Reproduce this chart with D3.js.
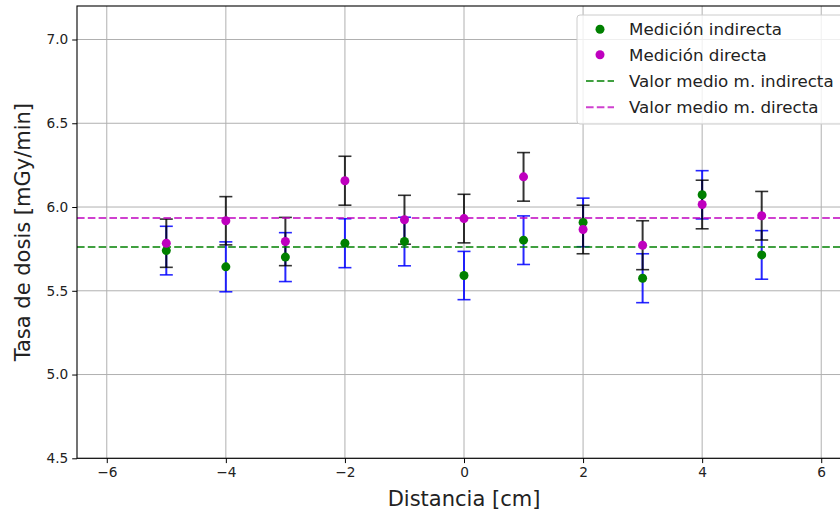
<!DOCTYPE html>
<html>
<head>
<meta charset="utf-8">
<script src="https://cdn.jsdelivr.net/npm/d3@7"></script>
<style>
  html, body { margin: 0; padding: 0; background: #fff; }
  svg { display: block; font-family: "DejaVu Sans", sans-serif; }
</style>
</head>
<body>
<svg id="chart" width="840" height="511"></svg>
<script>
// ---- data ----
const distances = [-5, -4, -3, -2, -1, 0, 1, 2, 3, 4, 5];
const indirecta = [5.74, 5.643, 5.701, 5.784, 5.794, 5.591, 5.802, 5.908, 5.575, 6.073, 5.714];
const indirectaErr = [0.145, 0.149, 0.146, 0.146, 0.145, 0.144, 0.145, 0.145, 0.146, 0.144, 0.145];
const directa = [5.784, 5.918, 5.794, 6.157, 5.924, 5.931, 6.18, 5.866, 5.772, 6.015, 5.948];
const directaErr = [0.144, 0.144, 0.144, 0.146, 0.146, 0.145, 0.145, 0.145, 0.146, 0.145, 0.145];
const mediaIndirecta = 5.762;
const mediaDirecta = 5.935;
const xTicks = [-6, -4, -2, 0, 2, 4, 6];
const yTicks = [4.5, 5.0, 5.5, 6.0, 6.5, 7.0];
const legendLabels = ["Medición indirecta", "Medición directa", "Valor medio m. indirecta", "Valor medio m. directa"];

(function () {
// ---- layout ----
const svg = d3.select("#chart");
const pL = 77, pR = 851, pT = 6, pB = 458.3;
const x = d3.scaleLinear().domain([-6.5, 6.5]).range([pL, pR]);
const y = d3.scaleLinear().domain([4.5, 7.2]).range([pB, pT]);

const G = "#008000", M = "#bf00bf", B = "#0000ff";

// grid
const grid = svg.append("g");
grid.selectAll(".gx").data(xTicks).join("line")
  .attr("x1", d => x(d)).attr("x2", d => x(d)).attr("y1", pT).attr("y2", pB)
  .attr("stroke", "#b0b0b0").attr("stroke-width", 1);
grid.selectAll(".gy").data(yTicks).join("line")
  .attr("x1", pL).attr("x2", pR).attr("y1", d => y(d)).attr("y2", d => y(d))
  .attr("stroke", "#b0b0b0").attr("stroke-width", 1);

// error bars
function errorBars(vals, errs, color, opacity) {
  const g = svg.append("g").attr("stroke", color).attr("stroke-opacity", opacity);
  const data = distances.map((d, i) => ({ x: d, v: vals[i], e: errs[i] }));
  g.selectAll(".v").data(data).join("line")
    .attr("x1", d => x(d.x)).attr("x2", d => x(d.x))
    .attr("y1", d => y(d.v - d.e)).attr("y2", d => y(d.v + d.e))
    .attr("stroke-width", 2);
  ["lo", "hi"].forEach(k => {
    g.selectAll(".c" + k).data(data).join("line")
      .attr("x1", d => x(d.x) - 6.5).attr("x2", d => x(d.x) + 6.5)
      .attr("y1", d => y(k === "lo" ? d.v - d.e : d.v + d.e))
      .attr("y2", d => y(k === "lo" ? d.v - d.e : d.v + d.e))
      .attr("stroke-width", 1.6);
  });
}
errorBars(indirecta, indirectaErr, B, 0.85);
errorBars(directa, directaErr, "#000", 0.8);

// mean lines
function meanLine(v, color) {
  svg.append("line").attr("x1", pL).attr("x2", pR)
    .attr("y1", y(v)).attr("y2", y(v))
    .attr("stroke", color).attr("stroke-opacity", 0.75)
    .attr("stroke-width", 2).attr("stroke-dasharray", "7.6,3.2");
}
meanLine(mediaIndirecta, G);
meanLine(mediaDirecta, M);

// points
svg.append("g").selectAll("circle").data(distances).join("circle")
  .attr("cx", d => x(d)).attr("cy", (d, i) => y(indirecta[i])).attr("r", 4.5).attr("fill", G);
svg.append("g").selectAll("circle").data(distances).join("circle")
  .attr("cx", d => x(d)).attr("cy", (d, i) => y(directa[i])).attr("r", 4.5).attr("fill", M);

// frame
svg.append("rect").attr("x", pL).attr("y", pT).attr("width", pR - pL).attr("height", pB - pT)
  .attr("fill", "none").attr("stroke", "#000").attr("stroke-width", 1.1);

// axes
const xAxis = svg.append("g").attr("transform", `translate(0,${pB})`)
  .call(d3.axisBottom(x).tickValues(xTicks).tickSize(4.8).tickPadding(4)
    .tickFormat(d => d < 0 ? "\u2212" + Math.abs(d) : String(d)));
const yAxis = svg.append("g").attr("transform", `translate(${pL},0)`)
  .call(d3.axisLeft(y).tickValues(yTicks).tickSize(4.8).tickPadding(4)
    .tickFormat(d3.format(".1f")));
[xAxis, yAxis].forEach(a => {
  a.select(".domain").remove();
  a.selectAll("text").attr("font-size", 13.7).attr("fill", "#222").attr("font-family", "DejaVu Sans");
  a.selectAll("line").attr("stroke", "#000");
});

// axis labels
svg.append("text").attr("x", (pL + pR) / 2).attr("y", 506)
  .attr("text-anchor", "middle").attr("font-size", 21).attr("fill", "#222")
  .text("Distancia [cm]");
svg.append("text").attr("transform", `translate(30,${(pT + pB) / 2}) rotate(-90)`)
  .attr("text-anchor", "middle").attr("font-size", 21).attr("fill", "#222")
  .text("Tasa de dosis [mGy/min]");

// legend
const lg = svg.append("g");
lg.append("rect").attr("x", 577).attr("y", 15).attr("width", 280).attr("height", 109)
  .attr("rx", 3).attr("fill", "#fff").attr("fill-opacity", 0.8)
  .attr("stroke", "#cccccc").attr("stroke-width", 1);
const rowsY = [29.3, 54.7, 81, 107.3];
lg.append("circle").attr("cx", 600).attr("cy", rowsY[0]).attr("r", 4.5).attr("fill", G);
lg.append("circle").attr("cx", 600).attr("cy", rowsY[1]).attr("r", 4.5).attr("fill", M);
[G, M].forEach((c, i) => {
  lg.append("line").attr("x1", 586).attr("x2", 614).attr("y1", rowsY[i + 2]).attr("y2", rowsY[i + 2])
    .attr("stroke", c).attr("stroke-opacity", 0.75).attr("stroke-width", 2).attr("stroke-dasharray", "7.6,3.2");
});
lg.selectAll("text").data(legendLabels).join("text")
  .attr("x", 629).attr("y", (d, i) => rowsY[i]).attr("dy", "0.36em")
  .attr("font-size", 16.7).attr("fill", "#222").text(d => d);
})();
</script>
</body>
</html>
